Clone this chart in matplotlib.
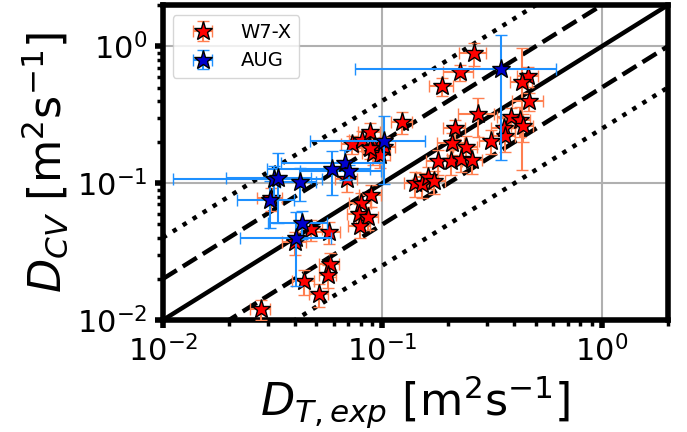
import numpy as np
import matplotlib
matplotlib.use('Agg')
import matplotlib.pyplot as plt

# W7-X points: D_T,exp, D_CV and symmetric errors
w7x_x = [0.261, 0.225, 0.187, 0.460, 0.433, 0.464, 0.272, 0.123, 0.385, 0.423,
         0.436, 0.358, 0.361, 0.312, 0.214, 0.207, 0.240, 0.179, 0.205, 0.228,
         0.256, 0.141, 0.151, 0.161, 0.173, 0.102, 0.0726, 0.0807, 0.0877, 0.0914,
         0.0953, 0.0906, 0.0975, 0.0877, 0.0689, 0.0887, 0.0798, 0.0782, 0.0859, 0.0789,
         0.0472, 0.0570, 0.0399, 0.0577, 0.0565, 0.0439, 0.0514, 0.0279, 0.0310]
w7x_y = [0.889, 0.645, 0.511, 0.604, 0.546, 0.397, 0.319, 0.279, 0.303, 0.288,
         0.261, 0.252, 0.220, 0.203, 0.252, 0.196, 0.183, 0.145, 0.145, 0.150,
         0.147, 0.100, 0.0984, 0.111, 0.103, 0.183, 0.193, 0.206, 0.235, 0.183,
         0.180, 0.166, 0.160, 0.180, 0.107, 0.0817, 0.0714, 0.0594, 0.0565, 0.0485,
         0.0461, 0.0438, 0.0371, 0.0257, 0.0213, 0.0193, 0.0155, 0.0120, 0.0778]
w7x_xerr = [0.037, 0.035, 0.023, 0.05, 0.05, 0.075, 0.05, 0.013, 0.05, 0.05,
            0.05, 0.045, 0.04, 0.035, 0.025, 0.03, 0.03, 0.02, 0.025, 0.03,
            0.03, 0.015, 0.015, 0.018, 0.02, 0.012, 0.008, 0.01, 0.01, 0.01,
            0.011, 0.01, 0.011, 0.01, 0.008, 0.01, 0.009, 0.009, 0.01, 0.009,
            0.006, 0.007, 0.005, 0.006, 0.005, 0.005, 0.005, 0.003, 0.004]
w7x_yerr = [0.17, 0.09, 0.08, 0.1, 0.42, 0.06, 0.1, 0.05, 0.05, 0.07,
            0.06, 0.05, 0.05, 0.04, 0.04, 0.035, 0.04, 0.03, 0.03, 0.03,
            0.03, 0.02, 0.02, 0.02, 0.02, 0.035, 0.03, 0.035, 0.04, 0.03,
            0.03, 0.03, 0.03, 0.03, 0.02, 0.015, 0.013, 0.011, 0.011, 0.009,
            0.008, 0.008, 0.007, 0.005, 0.004, 0.004, 0.003, 0.002, 0.015]

# AUG points
aug_x = [0.0321, 0.0334, 0.0421, 0.0307, 0.0589, 0.0675, 0.0704, 0.0430, 0.0404, 0.102, 0.347]
aug_y = [0.107, 0.109, 0.102, 0.0751, 0.127, 0.140, 0.122, 0.0511, 0.0397, 0.203, 0.679]
aug_xerr = [0.021, 0.014, 0.008, 0.009, 0.029, 0.033, 0.028, 0.013, 0.018, 0.055, 0.272]
aug_yerr = [0.027, 0.058, 0.028, 0.028, 0.045, 0.035, 0.015, 0.012, 0.022, 0.105, 0.53]

# reference lines y = f * x
ratios = [1, 2, 0.5, 4, 0.25]
styles = ['-', '--', '--', ':', ':']

xlim = (1e-2, 2)
ylim = (1e-2, 2)

fig = plt.figure(figsize=(6.87, 4.32), dpi=100)
ax = fig.add_axes([0.237, 0.259, 0.735, 0.729])

xs = np.array(xlim)
for f, ls in zip(ratios, styles):
    ax.plot(xs, f * xs, color='k', ls=ls, lw=3.2, zorder=1)

ax.errorbar(w7x_x, w7x_y, xerr=w7x_xerr, yerr=w7x_yerr, fmt='*', color='red',
            mec='k', mew=1, ms=14, ecolor='coral', elinewidth=1.5,
            capsize=4.5, capthick=1.5, label='W7-X', zorder=3)
ax.errorbar(aug_x, aug_y, xerr=aug_xerr, yerr=aug_yerr, fmt='*', color='mediumblue',
            mec='k', mew=1, ms=14, ecolor='dodgerblue', elinewidth=1.5,
            capsize=4.5, capthick=1.5, label='AUG', zorder=4)

ax.set_xscale('log')
ax.set_yscale('log')
ax.set_xlim(xlim)
ax.set_ylim(ylim)
ax.grid(True, which='major', color='#b0b0b0', lw=1.5, zorder=0)
ax.set_axisbelow(True)

for sp in ax.spines.values():
    sp.set_linewidth(4)
ax.tick_params(which='major', length=6, width=4, pad=5, labelsize=22)
ax.tick_params(which='minor', length=4, width=2.5)

ax.set_xlabel(r'$D_{T,exp}$ [m$^2$s$^{-1}$]', fontsize=32)
ax.set_ylabel(r'$D_{CV}$ [m$^2$s$^{-1}$]', fontsize=32)

ax.legend(loc='upper left', fontsize=14, handlelength=2.3)

fig.savefig('out.png', dpi=100)
